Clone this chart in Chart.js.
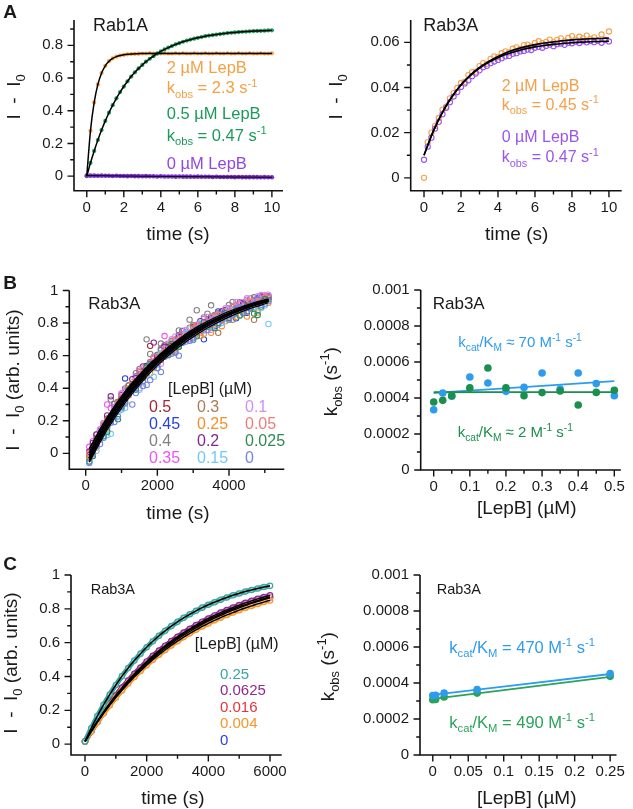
<!DOCTYPE html>
<html><head><meta charset="utf-8">
<script src="https://cdn.jsdelivr.net/npm/chart.js@4.4.1/dist/chart.umd.min.js"></script>
<style>
html,body{margin:0;padding:0;background:#fff;}
#wrap{position:relative;width:633px;height:809px;overflow:hidden;background:#fff;}
#wrap canvas{position:absolute;}
</style></head><body><div id="wrap"></div>
<script>
// ---------------- DATA ----------------
// Panel A left (Rab1A)
const aLeftTime = [0,0.2,0.4,0.6,0.8,1,1.2,1.4,1.6,1.8,2,2.2,2.4,2.6,2.8,3,3.2,3.4,3.6,3.8,4,4.2,4.4,4.6,4.8,5,5.2,5.4,5.6,5.8,6,6.2,6.4,6.6,6.8,7,7.2,7.4,7.6,7.8,8,8.2,8.4,8.6,8.8,9,9.2,9.4,9.6,9.8,10];
const aLeftOrange = [0,0.277,0.451,0.561,0.631,0.675,0.703,0.720,0.731,0.738,0.742,0.745,0.747,0.748,0.749,0.750,0.750,0.751,0.750,0.751,0.750,0.751,0.750,0.750,0.751,0.750,0.751,0.750,0.750,0.751,0.750,0.750,0.751,0.750,0.750,0.751,0.750,0.750,0.751,0.750,0.750,0.751,0.750,0.750,0.751,0.750,0.750,0.751,0.750,0.750,0.751];
const aLeftGreen = [0,0.081,0.154,0.221,0.282,0.338,0.388,0.434,0.476,0.514,0.548,0.580,0.609,0.635,0.659,0.680,0.700,0.718,0.734,0.749,0.763,0.775,0.786,0.796,0.806,0.814,0.822,0.829,0.835,0.841,0.846,0.851,0.856,0.860,0.863,0.866,0.869,0.872,0.875,0.877,0.879,0.881,0.883,0.884,0.886,0.887,0.888,0.889,0.890,0.891,0.892];
const aLeftPurple = [0.004,0.003,0.003,0.002,0.003,0.002,0.002,0.001,0.002,0.001,0.001,0.000,0.001,0.000,0.000,-0.001,0.000,-0.001,-0.001,-0.002,-0.001,-0.002,-0.002,-0.002,-0.003,-0.002,-0.003,-0.003,-0.003,-0.004,-0.003,-0.004,-0.004,-0.004,-0.005,-0.004,-0.005,-0.005,-0.005,-0.005,-0.006,-0.005,-0.006,-0.006,-0.006,-0.006,-0.006,-0.007,-0.006,-0.007,-0.007];

// Panel A right (Rab3A)
const aRightTime = aLeftTime;
const aRightOrange = [0.0000,0.0158,0.0200,0.0230,0.0265,0.0302,0.0315,0.0352,0.0375,0.0398,0.0420,0.0425,0.0455,0.0468,0.0470,0.0495,0.0508,0.0505,0.0527,0.0538,0.0535,0.0552,0.0560,0.0555,0.0572,0.0578,0.0570,0.0588,0.0590,0.0582,0.0598,0.0605,0.0596,0.0602,0.0612,0.0600,0.0611,0.0618,0.0605,0.0620,0.0628,0.0612,0.0625,0.0618,0.0630,0.0615,0.0622,0.0608,0.0635,0.0612,0.0648];
const aRightPurple = [0.0080,0.0138,0.0178,0.0218,0.0248,0.0282,0.0310,0.0335,0.0360,0.0380,0.0402,0.0418,0.0432,0.0450,0.0462,0.0476,0.0490,0.0496,0.0508,0.0515,0.0522,0.0530,0.0538,0.0540,0.0549,0.0552,0.0560,0.0562,0.0568,0.0566,0.0576,0.0580,0.0576,0.0584,0.0590,0.0583,0.0592,0.0595,0.0589,0.0598,0.0596,0.0603,0.0597,0.0605,0.0600,0.0606,0.0601,0.0608,0.0598,0.0610,0.0604];
const aRightFitTime = [0,0.5,1,1.5,2,2.5,3,3.5,4,4.5,5,5.5,6,6.5,7,7.5,8,8.5,9,9.5,10];
const aRightOrangeFit = [0.0100,0.0206,0.0290,0.0358,0.0412,0.0455,0.0489,0.0516,0.0538,0.0556,0.0570,0.0581,0.0590,0.0597,0.0602,0.0607,0.0611,0.0614,0.0616,0.0617,0.0619];
const aRightPurpleFit = [0.0100,0.0207,0.0291,0.0358,0.0411,0.0453,0.0486,0.0512,0.0532,0.0548,0.0561,0.0572,0.0580,0.0586,0.0591,0.0595,0.0598,0.0601,0.0603,0.0604,0.0605];

// Panel B left (Rab3A, 12 LepB concentrations); two interleaved time grids per series
const bTimeA = [100,300,500,700,900,1100,1300,1500,1700,1900,2100,2300,2500,2700,2900,3100,3300,3500,3700,3900,4100,4300,4500,4700,4900,5100];
const bTimeB = [200,400,600,800,1000,1200,1400,1600,1800,2000,2200,2400,2600,2800,3000,3200,3400,3600,3800,4000,4200,4400,4600,4800,5000];
const bLepB_0_5   = [-0.010,0.056,0.165,0.228,0.316,0.338,0.425,0.458,0.537,0.562,0.574,0.653,0.668,0.731,0.721,0.779,0.785,0.789,0.851,0.861,0.900,0.877,0.923,0.928,0.962,0.964];
const bLepB_0_5b  = [0.044,0.097,0.213,0.253,0.337,0.417,0.422,0.503,0.660,0.554,0.644,0.651,0.705,0.707,0.776,0.782,0.797,0.840,0.821,0.891,0.879,0.915,0.921,0.915,0.958];
const bLepB_0_4   = [0.000,0.096,0.135,0.330,0.286,0.398,0.425,0.518,0.700,0.592,0.674,0.663,0.668,0.751,0.821,0.879,0.835,0.909,0.861,0.831,0.930,0.897,0.873,0.958,0.932,0.964];
const bLepB_0_4b  = [0.004,0.137,0.183,0.303,0.307,0.417,0.492,0.493,0.610,0.604,0.664,0.651,0.755,0.737,0.786,0.752,0.857,0.850,0.841,0.911,0.899,0.865,0.951,0.935,0.968];
const bLepB_0_3   = [-0.030,0.086,0.145,0.198,0.316,0.358,0.395,0.498,0.527,0.552,0.644,0.643,0.638,0.721,0.771,0.739,0.795,0.839,0.740,0.871,0.820,0.897,0.933,0.820,0.952,0.954];
const bLepB_0_3b  = [0.024,0.087,0.213,0.263,0.287,0.397,0.432,0.443,0.560,0.584,0.594,0.691,0.655,0.717,0.766,0.722,0.807,0.800,0.871,0.821,0.879,0.865,0.921,0.875,0.938];
const bLepB_0_2   = [0.010,0.116,0.165,0.350,0.296,0.378,0.455,0.458,0.527,0.680,0.584,0.653,0.698,0.681,0.741,0.789,0.785,0.829,0.821,0.881,0.880,0.927,0.903,0.938,0.962,0.954];
const bLepB_0_2b  = [0.064,0.127,0.233,0.283,0.357,0.387,0.462,0.533,0.530,0.594,0.654,0.661,0.715,0.717,0.766,0.812,0.807,0.810,0.871,0.881,0.879,0.925,0.921,0.945,0.948];
const bLepB_0_1   = [0.000,0.046,0.185,0.228,0.276,0.378,0.405,0.400,0.477,0.592,0.550,0.613,0.718,0.701,0.691,0.789,0.795,0.759,0.851,0.891,0.850,0.917,0.953,0.928,0.972,0.974];
const bLepB_0_1b  = [0.034,0.147,0.183,0.283,0.367,0.357,0.452,0.523,0.540,0.564,0.644,0.701,0.685,0.757,0.716,0.792,0.837,0.830,0.821,0.891,0.929,0.895,0.931,0.965,0.948];
const bLepB_0_025 = [-0.050,0.066,0.105,0.198,0.210,0.318,0.415,0.438,0.527,0.542,0.594,0.603,0.620,0.681,0.731,0.719,0.805,0.799,0.801,0.861,0.850,0.847,0.903,0.858,0.902,0.944];
const bLepB_0_025b= [-0.016,0.097,0.133,0.253,0.287,0.387,0.392,0.463,0.540,0.524,0.604,0.671,0.655,0.707,0.706,0.772,0.777,0.770,0.831,0.831,0.879,0.860,0.891,0.850,0.948];
const bLepB_0_45  = [0.024,0.137,0.173,0.303,0.337,0.377,0.472,0.473,0.550,0.604,0.594,0.661,0.725,0.717,0.716,0.792,0.797,0.780,0.851,0.891,0.829,0.915,0.911,0.955,0.948];
const bLepB_0_45b = [0.010,0.066,0.185,0.208,0.306,0.460,0.415,0.438,0.537,0.552,0.634,0.623,0.688,0.751,0.731,0.779,0.700,0.819,0.871,0.831,0.880,0.917,0.863,0.938,0.932,0.964];
const bLepB_0_35  = [0.074,0.147,0.300,0.283,0.367,0.397,0.472,0.493,0.560,0.574,0.720,0.671,0.675,0.747,0.756,0.752,0.817,0.820,0.871,0.831,0.899,0.905,0.891,0.945,0.968];
const bLepB_0_35b = [0.040,0.116,0.175,0.278,0.306,0.388,0.415,0.508,0.527,0.582,0.594,0.673,0.678,0.731,0.721,0.779,0.825,0.809,0.851,0.881,0.860,0.907,0.943,0.918,0.962,0.964];
const bLepB_0_25  = [0.004,0.117,0.153,0.253,0.297,0.397,0.422,0.493,0.490,0.574,0.634,0.621,0.695,0.697,0.746,0.722,0.807,0.790,0.781,0.861,0.839,0.875,0.921,0.865,0.938];
const bLepB_0_25b = [-0.030,0.036,0.155,0.198,0.286,0.308,0.425,0.438,0.507,0.522,0.604,0.613,0.628,0.701,0.701,0.769,0.735,0.740,0.831,0.811,0.850,0.897,0.840,0.888,0.932,0.924];
const bLepB_0_15  = [-0.016,0.087,0.113,0.223,0.267,0.377,0.392,0.463,0.540,0.544,0.614,0.681,0.665,0.737,0.736,0.802,0.777,0.830,0.801,0.881,0.879,0.865,0.901,0.875,0.908];
const bLepB_0_15b = [-0.050,0.016,0.125,0.120,0.256,0.278,0.385,0.390,0.507,0.470,0.614,0.603,0.678,0.681,0.761,0.749,0.805,0.779,0.831,0.831,0.880,0.847,0.903,0.898,0.892,0.794];
const bLepB_0_05  = [0.034,0.097,0.203,0.253,0.347,0.357,0.442,0.513,0.530,0.554,0.624,0.681,0.675,0.717,0.766,0.742,0.807,0.840,0.821,0.861,0.909,0.885,0.931,0.925,0.958];
const bLepB_0_05b = [0.000,0.066,0.175,0.208,0.306,0.348,0.435,0.448,0.527,0.592,0.594,0.613,0.698,0.711,0.721,0.789,0.785,0.789,0.851,0.851,0.900,0.897,0.893,0.938,0.932,0.954];
const bLepB_0     = [-0.006,0.057,0.163,0.193,0.277,0.367,0.370,0.413,0.450,0.524,0.594,0.611,0.600,0.687,0.696,0.762,0.757,0.820,0.821,0.821,0.889,0.865,0.901,0.945,0.918];
const bLepB_0b    = [-0.060,0.046,0.095,0.188,0.226,0.308,0.300,0.428,0.420,0.532,0.500,0.623,0.618,0.681,0.691,0.759,0.755,0.799,0.791,0.851,0.850,0.897,0.873,0.918,0.912,0.934];
const bFitTime = [100,600,1100,1600,2100,2600,3100,3600,4100,4600,5100];
const bFit1  = [-0.045,0.165,0.330,0.466,0.578,0.670,0.746,0.808,0.860,0.902,0.937];
const bFit2  = [-0.030,0.175,0.341,0.476,0.588,0.680,0.755,0.817,0.868,0.910,0.944];
const bFit3  = [-0.010,0.192,0.356,0.490,0.600,0.690,0.763,0.823,0.872,0.913,0.946];
const bFit4  = [0.010,0.205,0.365,0.496,0.603,0.690,0.762,0.820,0.868,0.907,0.939];
const bFit5  = [0.025,0.215,0.372,0.500,0.605,0.690,0.760,0.817,0.864,0.902,0.933];
const bFit6  = [-0.055,0.145,0.310,0.447,0.560,0.653,0.730,0.794,0.847,0.890,0.925];
const bFit7  = [-0.020,0.195,0.365,0.502,0.613,0.703,0.775,0.833,0.880,0.918,0.949];
const bFit8  = [-0.035,0.168,0.335,0.472,0.586,0.678,0.754,0.817,0.868,0.910,0.945];
const bFit9  = [0.000,0.200,0.362,0.494,0.602,0.690,0.761,0.819,0.866,0.904,0.935];
const bFit10 = [-0.025,0.180,0.346,0.482,0.593,0.684,0.758,0.819,0.869,0.910,0.943];
const bFit11 = [-0.040,0.158,0.322,0.458,0.571,0.664,0.741,0.805,0.858,0.901,0.938];
const bFit12 = [0.030,0.222,0.380,0.508,0.612,0.697,0.766,0.822,0.868,0.905,0.935];

// Panel B right (kobs vs [LepB])
const bConc = [0,0.025,0.05,0.1,0.15,0.2,0.25,0.3,0.35,0.4,0.45,0.5];
const bKobsBlue  = [0.000335,0.000428,0.00041,0.000517,0.000483,0.000437,0.000459,0.000539,0.00045,0.000539,0.00048,0.000413];
const bKobsGreen = [0.000378,0.000387,0.000413,0.000456,0.000567,0.000456,0.000413,0.00043,0.000439,0.000361,0.000431,0.000443];
const bFitConc = [0,0.5];
const bFitBlue  = [0.000428,0.000494];
const bFitGreen = [0.000432,0.000433];

// Panel C left
const cTime = [0,200,400,600,800,1000,1200,1400,1600,1800,2000,2200,2400,2600,2800,3000,3200,3400,3600,3800,4000,4200,4400,4600,4800,5000,5200,5400,5600,5800,6000];
const cLepB_0_25   = [0.016,0.094,0.166,0.232,0.293,0.350,0.402,0.450,0.494,0.535,0.573,0.608,0.641,0.670,0.698,0.723,0.747,0.768,0.788,0.807,0.824,0.839,0.854,0.867,0.880,0.891,0.902,0.911,0.920,0.929,0.936];
const cLepB_0_0625 = [0.016,0.078,0.135,0.190,0.241,0.289,0.334,0.376,0.416,0.453,0.489,0.522,0.553,0.582,0.610,0.635,0.660,0.682,0.704,0.724,0.743,0.761,0.778,0.793,0.808,0.822,0.835,0.847,0.859,0.870,0.880];
const cLepB_0_016  = [0.016,0.077,0.134,0.188,0.238,0.286,0.330,0.372,0.411,0.448,0.483,0.516,0.547,0.576,0.603,0.628,0.652,0.675,0.696,0.716,0.734,0.752,0.769,0.784,0.799,0.813,0.825,0.837,0.849,0.860,0.870];
const cLepB_0_004  = [0.016,0.074,0.129,0.181,0.229,0.275,0.318,0.359,0.397,0.433,0.467,0.499,0.529,0.557,0.584,0.609,0.633,0.655,0.676,0.696,0.714,0.732,0.748,0.764,0.778,0.792,0.805,0.817,0.829,0.840,0.850];
const cLepB_0      = [0.016,0.075,0.131,0.184,0.233,0.280,0.323,0.365,0.404,0.440,0.475,0.507,0.538,0.567,0.594,0.620,0.644,0.666,0.688,0.708,0.727,0.745,0.761,0.777,0.792,0.806,0.819,0.832,0.843,0.855,0.865];

// Panel C right
const cConc = [0,0.004,0.016,0.0625,0.25];
const cKobsBlue  = [0.00033,0.000332,0.000344,0.000363,0.000452];
const cKobsGreen = [0.000307,0.000309,0.000322,0.000344,0.000437];
const cFitConc = [0,0.25];
const cFitBlue  = [0.000334,0.00045];
const cFitGreen = [0.000312,0.000434];

// Tick values
const ticksTime10 = [0,2,4,6,8,10], minorTime10 = [1,3,5,7,9];
const ticksAL_Y = [0,0.2,0.4,0.6,0.8], minorAL_Y = [0.1,0.3,0.5,0.7,0.9];
const ticksAR_Y = [0,0.02,0.04,0.06], minorAR_Y = [0.01,0.03,0.05];
const ticksBL_X = [0,2000,4000], minorBL_X = [1000,3000,5000];
const ticksUnit_Y = [0,0.2,0.4,0.6,0.8,1], minorUnit_Y = [0.1,0.3,0.5,0.7,0.9];
const ticksBR_X = [0,0.1,0.2,0.3,0.4,0.5], minorBR_X = [0.05,0.15,0.25,0.35,0.45];
const ticksK_Y = [0,0.0002,0.0004,0.0006,0.0008,0.001], minorK_Y = [0.0001,0.0003,0.0005,0.0007,0.0009];
const ticksCL_X = [0,2000,4000,6000], minorCL_X = [1000,3000,5000];
const ticksCR_X = [0,0.05,0.1,0.15,0.2,0.25], minorCR_X = [0.025,0.075,0.125,0.175,0.225];

// ---------------- STYLE ----------------
const FONT = '"Liberation Sans", Arial, Helvetica, sans-serif';
Chart.defaults.font.family = FONT;
const C = {
  orange:'#F5A043', green:'#1C9A5A', purpleDot:'#7B30CC', purpleTxt:'#9247E2',
  aROrange:'#F4A04A', aRPurple:'#9A55EE',
  kBlue:'#2E9BEF', kGreen:'#1B8F4E', kGreen2:'#2BA35B',
  b05:'#A0282E', b045:'#2443E0', b04:'#808080', b035:'#F052F0', b03:'#A87C55', b025:'#F5902A',
  b02:'#83288E', b015:'#72C9F7', b01:'#D08EF2', b005:'#F07C7C', b0025:'#2E8B52', b0:'#7484EA',
  c025:'#3AA6A0', c00625:'#8E2A90', c0016:'#E8323A', c0004:'#F5962A', c0:'#2443E0'
};

function fontStr(s,b){return (b?'bold ':'')+s+'px '+FONT;}
function richWidth(ctx,segs,size,bold){let w=0;for(const s of segs){ctx.font=fontStr(s[1]?size*0.68:size,bold);w+=ctx.measureText(s[0]).width;}return w;}
function drawRich(ctx,it,ox,oy){
  const size=it.size||16,bold=!!it.bold;
  ctx.save();ctx.translate(it.x-ox,it.y-oy);if(it.rotate)ctx.rotate(-Math.PI/2);
  const w=richWidth(ctx,it.segs,size,bold);
  let x=it.align==='center'?-w/2:(it.align==='right'?-w:0);
  const base=0.36*size;
  ctx.fillStyle=it.color||'#1a1a1a';ctx.textBaseline='alphabetic';ctx.textAlign='left';
  for(const s of it.segs){const fs=s[1]?size*0.68:size;ctx.font=fontStr(fs,bold);let dy=base;if(s[1]==='sub')dy+=0.27*size;if(s[1]==='sup')dy-=0.42*size;ctx.fillText(s[0],x,dy);x+=ctx.measureText(s[0]).width;}
  ctx.restore();
}

const CFG = {};
const framePlugin = {
  id:'frame',
  afterDraw(chart){
    const cfg=CFG[chart.canvas.id];if(!cfg)return;
    const ctx=chart.ctx,ca=chart.chartArea,xs=chart.scales.x,ys=chart.scales.y;
    ctx.save();
    ctx.strokeStyle='#111';ctx.lineWidth=1.6;ctx.lineCap='butt';
    ctx.beginPath();ctx.moveTo(ca.left,ca.top);ctx.lineTo(ca.left,ca.bottom);ctx.lineTo(ca.right,ca.bottom);ctx.stroke();
    ctx.lineWidth=1.4;ctx.beginPath();
    const tick=(v,len,ax)=>{if(ax==='x'){const p=xs.getPixelForValue(v);ctx.moveTo(p,ca.bottom);ctx.lineTo(p,ca.bottom+len);}else{const p=ys.getPixelForValue(v);ctx.moveTo(ca.left,p);ctx.lineTo(ca.left-len,p);}};
    cfg.xMajor.forEach(v=>tick(v,6.5,'x'));cfg.xMinor.forEach(v=>tick(v,3.8,'x'));
    cfg.yMajor.forEach(v=>tick(v,6.5,'y'));cfg.yMinor.forEach(v=>tick(v,3.8,'y'));
    ctx.stroke();
    (cfg.texts||[]).forEach(t=>drawRich(ctx,t,cfg.P.cx,cfg.P.cy));
    ctx.restore();
  }
};

const pts=(xs,ys)=>xs.map((x,i)=>({x:x,y:ys[i]}));
const dots=(xs,ys,col,r)=>({data:pts(xs,ys),showLine:false,pointRadius:r,pointBackgroundColor:col,pointBorderColor:col,pointBorderWidth:0});
const rings=(xs,ys,col,r,bw)=>({data:pts(xs,ys),showLine:false,pointRadius:r,pointBackgroundColor:'rgba(0,0,0,0)',pointBorderColor:col,pointBorderWidth:bw||1});
const band=(xs,ys,col)=>({data:pts(xs,ys),showLine:true,borderColor:col,borderWidth:5,pointRadius:2.7,pointBackgroundColor:'rgba(255,255,255,0.45)',pointBorderColor:col,pointBorderWidth:1.2,cubicInterpolationMode:'monotone',fill:false});
const fit=(xs,ys,col,w)=>({data:pts(xs,ys),showLine:true,borderColor:col,borderWidth:w||1.5,pointRadius:0,cubicInterpolationMode:'monotone',fill:false});

const fmt=v=>String(Math.round(v*1e7)/1e7);
const wrap=document.getElementById('wrap');
let nChart=0;
function makeChart(P,datasets,xr,yr,xMajor,xMinor,yMajor,yMinor,texts){
  const c=document.createElement('canvas');c.id='ch'+(nChart++);
  c.width=P.cw;c.height=P.ch;c.style.left=P.cx+'px';c.style.top=P.cy+'px';c.style.width=P.cw+'px';c.style.height=P.ch+'px';
  wrap.appendChild(c);
  CFG[c.id]={P:P,xMajor:xMajor,xMinor:xMinor,yMajor:yMajor,yMinor:yMinor,texts:texts};
  datasets.forEach((d,i)=>{d.order=-i;});   // later datasets drawn on top
  const tickFont={size:15,family:FONT};
  new Chart(c,{type:'scatter',data:{datasets:datasets},options:{
    responsive:false,animation:false,events:[],devicePixelRatio:1,
    layout:{autoPadding:false,padding:{left:0,top:P.t-P.cy,right:P.cx+P.cw-P.r,bottom:0}},
    plugins:{legend:{display:false},tooltip:{enabled:false}},
    scales:{
      x:{type:'linear',position:'bottom',min:xr[0],max:xr[1],grid:{display:false,drawTicks:false},border:{display:false},
        afterBuildTicks:s=>{s.ticks=xMajor.map(v=>({value:v}));},
        afterFit:s=>{s.height=P.cy+P.ch-P.b;},
        ticks:{font:tickFont,color:'#1a1a1a',padding:8,maxRotation:0,autoSkip:false,callback:v=>fmt(v)}},
      y:{type:'linear',position:'left',min:yr[0],max:yr[1],grid:{display:false,drawTicks:false},border:{display:false},
        afterBuildTicks:s=>{s.ticks=yMajor.map(v=>({value:v}));},
        afterFit:s=>{s.width=P.l-P.cx;},
        ticks:{font:tickFont,color:'#1a1a1a',padding:11,autoSkip:false,callback:v=>fmt(v)}}
    }},plugins:[framePlugin]});
}

// ---------------- PANELS ----------------
const PAL={cx:0,cy:0,cw:316,ch:252,l:74,t:14,r:283,b:190.7};
const PAR={cx:316,cy:0,cw:317,ch:252,l:410.7,t:12.7,r:621.7,b:190.7};
const PBL={cx:0,cy:255,cw:316,ch:272,l:69.3,t:290.5,r:284.3,b:469.3};
const PBR={cx:316,cy:255,cw:317,ch:272,l:420.7,t:290,r:625,b:470};
const PCL={cx:0,cy:530,cw:316,ch:279,l:71,t:575,r:281.7,b:755};
const PCR={cx:316,cy:530,cw:317,ch:279,l:420,t:575,r:625,b:755};

const T = (segs,x,y,o)=>Object.assign({segs:segs,x:x,y:y,size:16,align:'left'},o||{});
const kobs = v=>[['k'],['obs','sub'],[' = '+v+' s'],['-1','sup']];
const kcat = (rel,v)=>[['k'],['cat','sub'],['/K'],['M','sub'],[' '+rel+' '+v+' M'],['-1','sup'],[' s'],['-1','sup']];
const yTitleI = [['I  -  I'],['0','sub']];
const yTitleIarb = [['I  -  I'],['0','sub'],[' (arb. units)']];
const yTitleK = [['k'],['obs','sub'],[' (s'],['-1','sup'],[')']];

// A left
makeChart(PAL,[
  dots(aLeftTime,aLeftOrange,C.orange,2.1),
  dots(aLeftTime,aLeftGreen,C.green,2.1),
  dots(aLeftTime,aLeftPurple,C.purpleDot,2.3),
  fit(aLeftTime,aLeftOrange,'#000',1.5),
  fit(aLeftTime,aLeftGreen,'#000',1.5),
  fit(aLeftTime,aLeftPurple,'#000',1.0)
],[-0.69,10.6],[-0.089,0.955],ticksTime10,minorTime10,ticksAL_Y,minorAL_Y,[
  T([['A']],10,11,{size:19,bold:true,align:'center'}),
  T([['Rab1A']],93,25,{size:18}),
  T([['2 µM LepB']],166.7,67,{size:16.5,color:C.orange}),
  T(kobs('2.3'),166.7,87.5,{size:16.5,color:C.orange}),
  T([['0.5 µM LepB']],166.7,113.3,{size:16.5,color:C.green}),
  T(kobs('0.47'),166.7,135,{size:16.5,color:C.green}),
  T([['0 µM LepB']],166.7,163.3,{size:16.5,color:C.purpleTxt}),
  T(yTitleI,13,97,{size:19,rotate:true,align:'center'}),
  T([['time (s)']],178,233,{size:19,align:'center'})
]);

// A right
makeChart(PAR,[
  rings(aRightTime,aRightOrange,C.aROrange,2.6,1.1),
  rings(aRightTime,aRightPurple,C.aRPurple,2.6,1.1),
  fit(aRightFitTime,aRightOrangeFit,'#000',1.6),
  fit(aRightFitTime,aRightPurpleFit,'#000',1.6)
],[-0.72,10.69],[-0.0057,0.0699],ticksTime10,minorTime10,ticksAR_Y,minorAR_Y,[
  T([['Rab3A']],423.3,25,{size:18}),
  T([['2 µM LepB']],501.7,85,{size:16,color:C.aROrange}),
  T(kobs('0.45'),501.7,104,{size:16,color:C.aROrange}),
  T([['0 µM LepB']],501.7,136.7,{size:16,color:C.aRPurple}),
  T(kobs('0.47'),501.7,156.7,{size:16,color:C.aRPurple}),
  T(yTitleI,335,97,{size:19,rotate:true,align:'center'}),
  T([['time (s)']],516.7,233,{size:19,align:'center'})
]);

// B left
const bFits=[bFit1,bFit2,bFit3,bFit4,bFit5,bFit6,bFit7,bFit8,bFit9,bFit10,bFit11,bFit12];
const bSeries=[
  [bTimeA,bLepB_0_5,bTimeB,bLepB_0_5b,C.b05],
  [bTimeB,bLepB_0_45,bTimeA,bLepB_0_45b,C.b045],
  [bTimeA,bLepB_0_4,bTimeB,bLepB_0_4b,C.b04],
  [bTimeB,bLepB_0_35,bTimeA,bLepB_0_35b,C.b035],
  [bTimeA,bLepB_0_3,bTimeB,bLepB_0_3b,C.b03],
  [bTimeB,bLepB_0_25,bTimeA,bLepB_0_25b,C.b025],
  [bTimeA,bLepB_0_2,bTimeB,bLepB_0_2b,C.b02],
  [bTimeB,bLepB_0_15,bTimeA,bLepB_0_15b,C.b015],
  [bTimeA,bLepB_0_1,bTimeB,bLepB_0_1b,C.b01],
  [bTimeB,bLepB_0_05,bTimeA,bLepB_0_05b,C.b005],
  [bTimeA,bLepB_0_025,bTimeB,bLepB_0_025b,C.b0025],
  [bTimeB,bLepB_0,bTimeA,bLepB_0b,C.b0]
];
const bDatasets=[];
bSeries.forEach(s=>{bDatasets.push(rings(s[0],s[1],s[4],2.7,1.05));bDatasets.push(rings(s[2],s[3],s[4],2.7,1.05));});
makeChart(PBL,bDatasets.concat(bFits.map(f=>fit(bFitTime,f,'#000',1.2))),
[-458,5544],[-0.098,1.0],ticksBL_X,minorBL_X,ticksUnit_Y,minorUnit_Y,[
  T([['B']],10,282,{size:19,bold:true,align:'center'}),
  T([['Rab3A']],88.3,303.3,{size:17}),
  T([['[LepB] (µM)']],210,388,{size:16,align:'center'}),
  T([['0.5']],149,406,{color:C.b05}),T([['0.45']],149,423,{color:C.b045}),T([['0.4']],149,440,{color:C.b04}),T([['0.35']],149,457,{color:C.b035}),
  T([['0.3']],197,406,{color:C.b03}),T([['0.25']],197,423,{color:C.b025}),T([['0.2']],197,440,{color:C.b02}),T([['0.15']],197,457,{color:C.b015}),
  T([['0.1']],245,406,{color:C.b01}),T([['0.05']],245,423,{color:C.b005}),T([['0.025']],245,440,{color:C.b0025}),T([['0']],245,457,{color:C.b0}),
  T(yTitleIarb,12,380,{size:19,rotate:true,align:'center'}),
  T([['time (s)']],178,511.7,{size:19,align:'center'})
]);

// B right
makeChart(PBR,[
  fit(bFitConc,bFitBlue,C.kBlue,1.8),
  fit(bFitConc,bFitGreen,C.kGreen,1.8),
  dots(bConc,bKobsBlue,C.kBlue,3.8),
  dots(bConc,bKobsGreen,C.kGreen,3.8)
],[-0.036,0.518],[0,0.001],ticksBR_X,minorBR_X,ticksK_Y,minorK_Y,[
  T([['Rab3A']],432.7,303.3,{size:17}),
  T(kcat('≈','70'),458.3,341.7,{size:15,color:C.kBlue}),
  T(kcat('≈','2'),457.7,431.7,{size:15,color:C.kGreen}),
  T(yTitleK,330,381.7,{size:19,rotate:true,align:'center'}),
  T([['[LepB] (µM)']],526.7,506.7,{size:19,align:'center'})
]);

// C left
makeChart(PCL,[
  band(cTime,cLepB_0,C.c0),
  band(cTime,cLepB_0_016,C.c0016),
  band(cTime,cLepB_0_0625,C.c00625),
  band(cTime,cLepB_0_004,C.c0004),
  band(cTime,cLepB_0_25,C.c025),
  fit(cTime,cLepB_0,'#000',1.4),
  fit(cTime,cLepB_0_016,'#000',1.4),
  fit(cTime,cLepB_0_0625,'#000',1.4),
  fit(cTime,cLepB_0_004,'#000',1.4),
  fit(cTime,cLepB_0_25,'#000',1.5)
],[-454,6379],[-0.064,1.0],ticksCL_X,minorCL_X,ticksUnit_Y,minorUnit_Y,[
  T([['C']],10,563.3,{size:19,bold:true,align:'center'}),
  T([['Rab3A']],90.7,588.3,{size:14.5}),
  T([['[LepB] (µM)']],236.7,643.3,{size:16,align:'center'}),
  T([['0.25']],220,673.3,{size:15,color:C.c025}),
  T([['0.0625']],220,690,{size:15,color:C.c00625}),
  T([['0.016']],220,706.7,{size:15,color:C.c0016}),
  T([['0.004']],220,722.7,{size:15,color:C.c0004}),
  T([['0']],220,739.3,{size:15,color:C.c0}),
  T(yTitleIarb,10,663,{size:19,rotate:true,align:'center'}),
  T([['time (s)']],173,796.7,{size:19,align:'center'})
]);

// C right
makeChart(PCR,[
  fit(cFitConc,cFitGreen,C.kGreen2,1.8),
  fit(cFitConc,cFitBlue,C.kBlue,1.8),
  dots(cConc,cKobsGreen,C.kGreen2,3.8),
  dots(cConc,cKobsBlue,C.kBlue,3.8)
],[-0.018,0.259],[0,0.001],ticksCR_X,minorCR_X,ticksK_Y,minorK_Y,[
  T([['Rab3A']],436.7,588.3,{size:14.5}),
  T(kcat('=','470'),449.3,646.7,{size:16.5,color:C.kBlue}),
  T(kcat('=','490'),449.3,721.7,{size:16.5,color:C.kGreen2}),
  T(yTitleK,326.7,666.7,{size:19,rotate:true,align:'center'}),
  T([['[LepB] (µM)']],526.7,796.7,{size:19,align:'center'})
]);
</script></body></html>
